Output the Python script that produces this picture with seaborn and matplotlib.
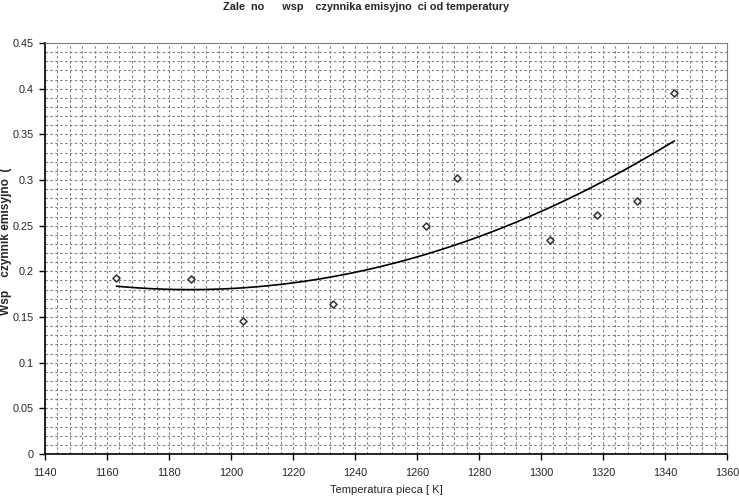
import matplotlib
matplotlib.use('Agg')
import matplotlib.pyplot as plt
from matplotlib.ticker import MultipleLocator
import pandas as pd
import seaborn as sns

sns.set_style("ticks")
plt.rcParams['font.family'] = ['Liberation Sans', 'DejaVu Sans']

# furnace temperature [K] and emissivity coefficient
temperatura = [1163, 1187, 1204, 1233, 1263, 1273, 1303, 1318, 1331, 1343]
emisyjnosc = [0.193, 0.192, 0.146, 0.164, 0.250, 0.302, 0.234, 0.262, 0.277, 0.395]

df = pd.DataFrame({"T": temperatura, "eps": emisyjnosc})

fig = plt.figure(figsize=(7.39, 4.97), dpi=100)
ax = fig.add_axes([0.0609, 0.0865, 0.9229, 0.827])

sns.regplot(data=df, x="T", y="eps", order=2, ci=None, ax=ax,
            marker="D",
            scatter_kws=dict(s=13, facecolors="white", edgecolors="black", linewidths=1.1, zorder=3),
            line_kws=dict(color="black", linewidth=1.2, zorder=2))

ax.set_xlim(1140, 1360)
ax.set_ylim(0, 0.45)
ax.xaxis.set_major_locator(MultipleLocator(20))
ax.xaxis.set_minor_locator(MultipleLocator(4))
ax.yaxis.set_minor_locator(MultipleLocator(0.01))
ax.set_yticks([i * 0.05 for i in range(10)])
ax.set_yticklabels(["0", "0.05", "0.1", "0.15", "0.2", "0.25", "0.3", "0.35", "0.4", "0.45"])

ax.grid(which="both", color="#808080", linestyle=(0, (2.2, 2.2)), linewidth=0.8)
ax.set_axisbelow(True)
ax.tick_params(which="major", direction="out", length=4, width=1, labelsize=7.8, color="black")
ax.tick_params(axis="x", which="major", pad=6)
ax.tick_params(axis="y", which="major", pad=4)
ax.tick_params(which="minor", length=0)

for s in ["left", "bottom"]:
    ax.spines[s].set_color("black")
    ax.spines[s].set_linewidth(1.2)
for s in ["top", "right"]:
    ax.spines[s].set_visible(True)
    ax.spines[s].set_color("#808080")
    ax.spines[s].set_linewidth(0.8)

ax.set_xlabel("Temperatura pieca [ K]", fontsize=8)
ax.xaxis.set_label_coords(0.5, -0.075)
ax.set_ylabel("Wsp    czynnik emisyjno  (", fontsize=8.6, fontweight="bold", va="center")
ax.yaxis.set_label_coords(-0.0565, 0.518)
fig.suptitle("Zale  no      wsp    czynnika emisyjno  ci od temperatury",
             fontsize=7.8, fontweight="bold", x=0.495, y=0.995)

fig.savefig("out.png", dpi=100)
